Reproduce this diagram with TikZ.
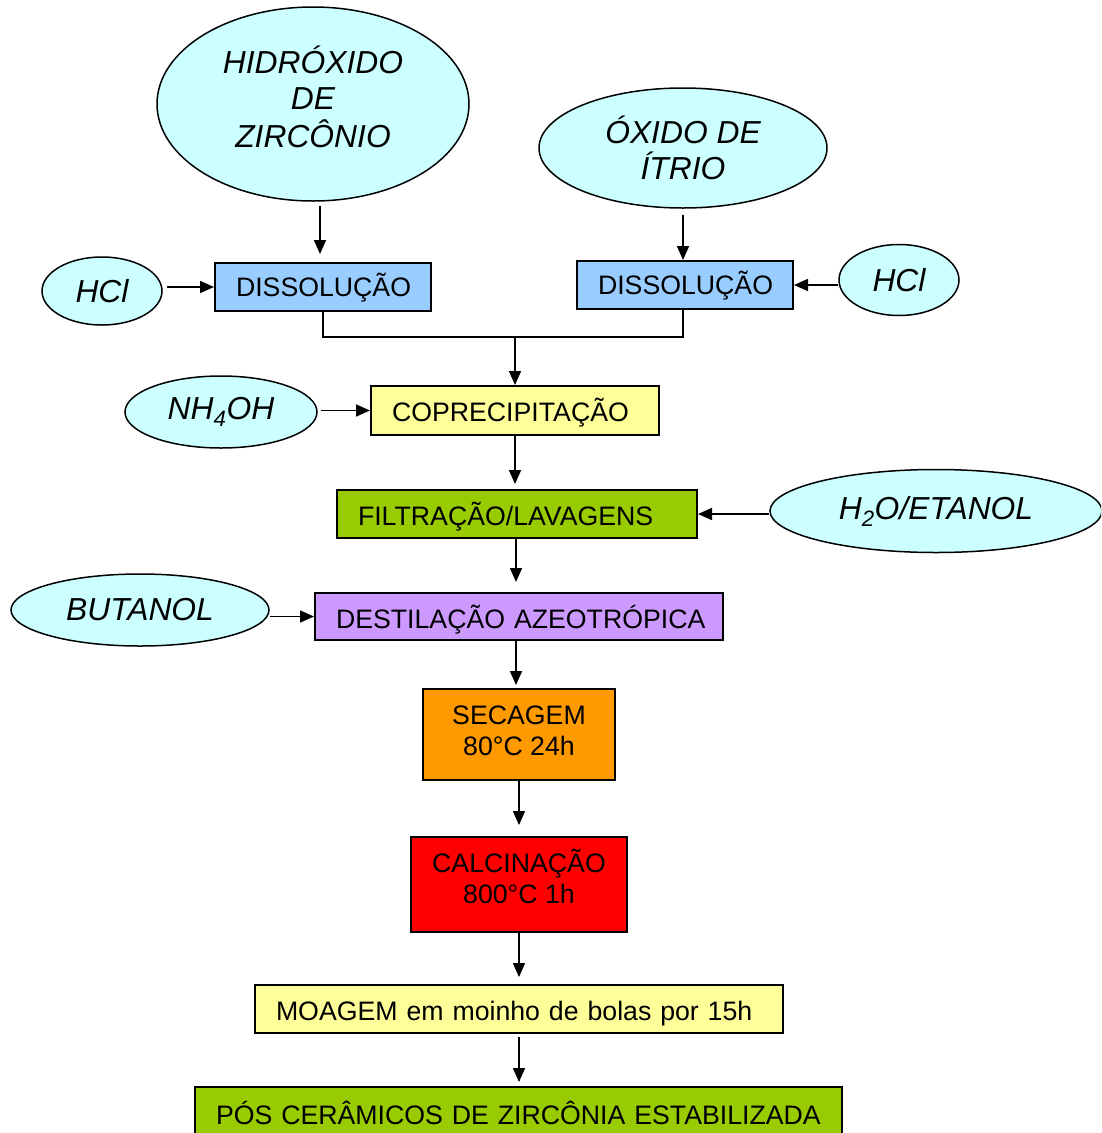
\documentclass[tikz,border=0pt]{standalone}
\usepackage{fontspec}
\setmainfont{Liberation Sans}
\usetikzlibrary{shapes.geometric,arrows.meta}
\definecolor{cyanfill}{HTML}{CCFFFF}
\definecolor{bluefill}{HTML}{99CCFF}
\definecolor{yelfill}{HTML}{FFFF99}
\definecolor{grnfill}{HTML}{99CC00}
\definecolor{purfill}{HTML}{CC99FF}
\definecolor{orafill}{HTML}{FF9900}
\definecolor{redfill}{HTML}{FF0000}
\newcommand\upby[2]{\raisebox{#1}[\height][\depth]{#2}}
\newcommand\mylines[1]{\begin{tabular}{@{}c@{}}#1\end{tabular}}
\tikzset{
  reagent/.style={ellipse, draw=black, line width=1.5pt, fill=cyanfill, inner sep=0pt,
    font=\fontsize{31.8}{36}\selectfont\itshape, align=center},
  stepbox/.style={rectangle, draw=black, line width=2pt, inner ysep=0pt, inner xsep=21pt,
    font=\fontsize{26.7}{31}\selectfont, align=left},
  twobox/.style={rectangle, draw=black, line width=2pt, inner sep=0pt,
    font=\fontsize{26.7}{31}\selectfont, align=center},
  arr/.style={line width=1.6pt, -{Triangle[width=12pt,length=14pt]}},
  link/.style={line width=1.6pt}
}
\begin{document}
\begin{tikzpicture}[x=1pt,y=-1pt]
\clip (0,0) rectangle (1101,1133);
\fill[white] (0,0) rectangle (1101,1133);

% reagents
\node[reagent, minimum width=312pt, minimum height=194pt] (hid) at (313,104)
  {\upby{2pt}{\mylines{HIDRÓXIDO\\DE\\ZIRCÔNIO}}};
\node[reagent, minimum width=288pt, minimum height=120pt] (oxi) at (683,148) {ÓXIDO DE\\ÍTRIO};
\node[reagent, minimum width=120pt, minimum height=68pt] (hcla) at (102,291) {HCl};
\node[reagent, minimum width=120pt, minimum height=71pt] (hclb) at (899,280) {HCl};
\node[reagent, minimum width=192pt, minimum height=72pt] (nh) at (221,412) {NH\textsubscript{4}OH};
\node[reagent, minimum width=332pt, minimum height=83pt] (h2o) at (936,511) {H\textsubscript{2}O/ETANOL};
\node[reagent, minimum width=258pt, minimum height=72pt] (but) at (140,610) {BUTANOL};

% steps
\node[stepbox, fill=bluefill, text width=174pt, minimum height=48pt] (disa) at (323,287) {\upby{-1pt}{DISSOLUÇÃO}};
\node[stepbox, fill=bluefill, text width=174pt, minimum height=48pt] (disb) at (685,285) {\upby{-1pt}{DISSOLUÇÃO}};
\node[stepbox, fill=yelfill, text width=246pt, minimum height=49pt] (cop) at (515,410.5) {\upby{-2pt}{COPRECIPITAÇÃO}};
\node[stepbox, fill=grnfill, text width=318pt, minimum height=48pt] (fil) at (517,514) {\upby{-3pt}{FILTRAÇÃO/LAVAGENS}};
\node[stepbox, fill=purfill, text width=366pt, minimum height=47pt] (des) at (519,616.5) {\upby{-3pt}{DESTILAÇÃO AZEOTRÓPICA}};
\node[twobox, fill=orafill, minimum width=192pt, minimum height=91pt] (sec) at (519,734.5)
  {\upby{1pt}{\mylines{SECAGEM\\80°C 24h}}};
\node[twobox, fill=redfill, minimum width=216pt, minimum height=95pt] (cal) at (519,884.5)
  {\upby{4pt}{\mylines{CALCINAÇÃO\\800°C 1h}}};
\node[stepbox, fill=yelfill, text width=486pt, minimum height=48pt] (moa) at (519,1009)
  {\upby{-5pt}{MOAGEM em moinho de bolas por 15h}};
\node[stepbox, fill=grnfill, text width=605pt, minimum height=52pt] (pos) at (518.5,1113)
  {PÓS CERÂMICOS DE ZIRCÔNIA ESTABILIZADA};

\coordinate (m) at (515,337);

% connectors
\draw[arr, shorten <=4pt, shorten >=8pt] ([xshift=-3pt]disa.north |- hid.south) -- ([xshift=-3pt]disa.north);
\draw[arr, shorten <=4pt] (hcla.east |- disa.west) -- (disa.west);
\draw[arr, shorten <=6pt] ([xshift=-2pt]disb.north |- oxi.south) -- ([xshift=-2pt]disb.north);
\draw[arr] (hclb.west |- disb.east) -- (disb.east);
\draw[link] (disa.south) -- (disa.south |- m) -- ([xshift=-2pt]disb.south |- m) -- ([xshift=-2pt]disb.south);
\draw[arr] (m) -- (cop.north);
\draw[arr, shorten <=3pt] (nh.east |- cop.west) -- (cop.west);
\draw[arr, shorten >=5pt] ([xshift=-2pt]fil.north |- cop.south) -- ([xshift=-2pt]fil.north);
\draw[arr] (h2o.west |- fil.east) -- (fil.east);
\draw[arr, shorten >=10pt] ([xshift=-3pt]des.north |- fil.south) -- ([xshift=-3pt]des.north);
\draw[arr] (but.east |- des.west) -- (des.west);
\draw[arr, shorten >=3pt] ([xshift=-3pt]des.south) -- ([xshift=-3pt]sec.north);
\draw[arr, shorten >=11pt] (sec.south) -- (cal.north);
\draw[arr, shorten >=7pt] (cal.south) -- (moa.north);
\draw[arr, shorten <=3pt, shorten >=4pt] (moa.south) -- (moa.south |- pos.north);
\end{tikzpicture}
\end{document}
